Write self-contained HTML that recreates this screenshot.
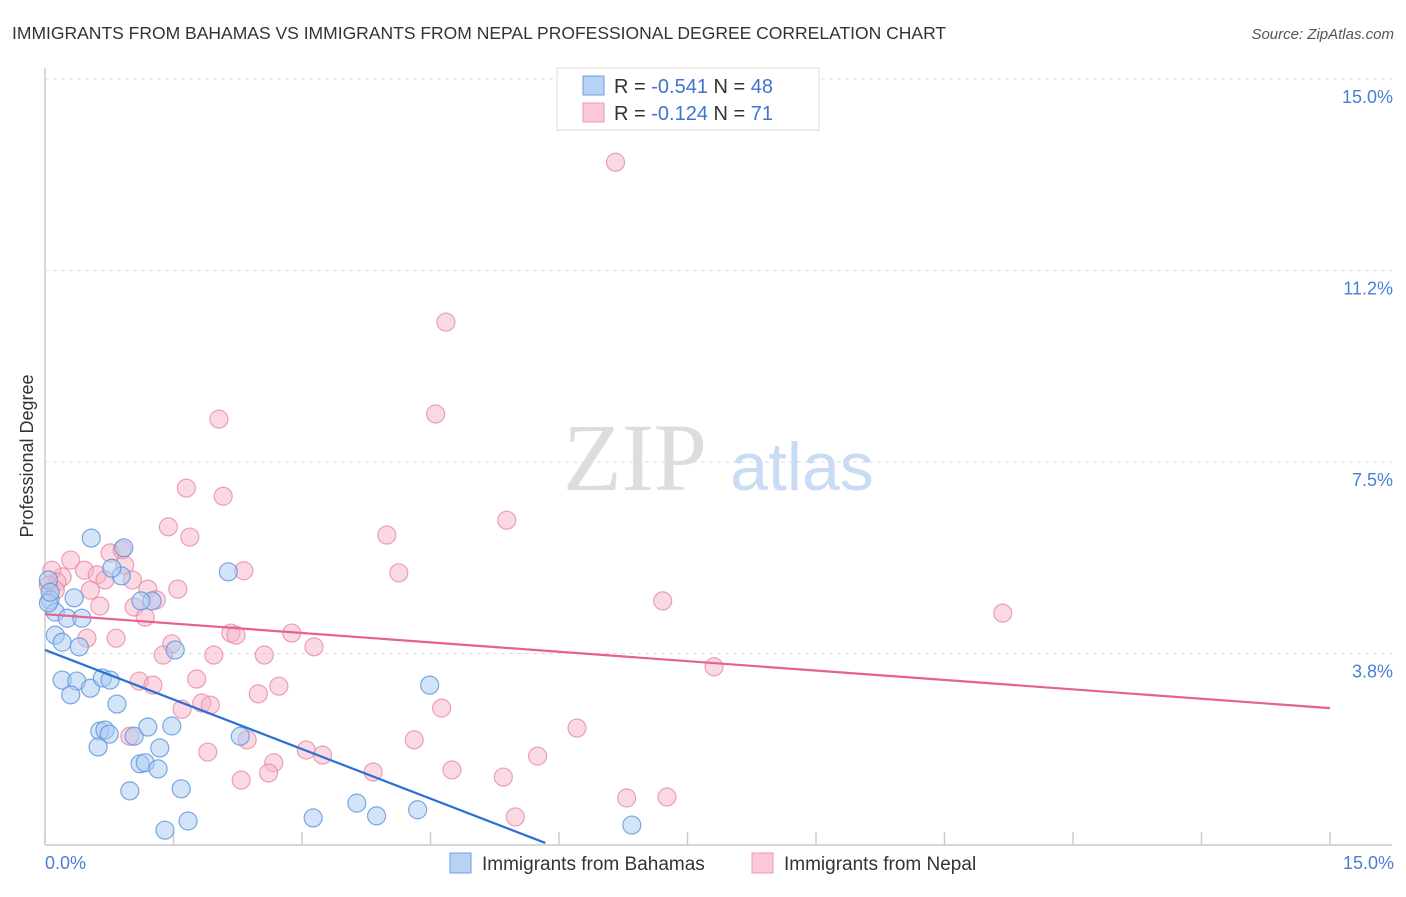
<!DOCTYPE html>
<html><head><meta charset="utf-8"><style>
body{margin:0;background:#fff;font-family:"Liberation Sans",sans-serif;}
</style></head><body>
<svg width="1406" height="892" xmlns="http://www.w3.org/2000/svg" id="chart">
<text x="12" y="39" font-size="17.5" fill="#333">IMMIGRANTS FROM BAHAMAS VS IMMIGRANTS FROM NEPAL PROFESSIONAL DEGREE CORRELATION CHART</text>
<text x="1394" y="39" font-size="15" fill="#555" font-style="italic" text-anchor="end">Source: ZipAtlas.com</text>
<g>
<text x="635" y="490" font-size="96" fill="#ddd" font-family="Liberation Serif,serif" text-anchor="middle">ZIP</text>
<text x="802" y="490" font-size="68" fill="#c9dcf3" text-anchor="middle">atlas</text>
</g>
<g id="grid"></g>
<g id="axes"></g>
<g id="marks"></g>
<text transform="translate(33,456) rotate(-90)" font-size="18" fill="#333" text-anchor="middle">Professional Degree</text>
<text x="45" y="869" font-size="18" fill="#4a7fd4">0.0%</text>
<text x="1394" y="869" font-size="18" fill="#4a7fd4" text-anchor="end">15.0%</text>
<g>
<rect x="557" y="68" width="262" height="62" fill="#fff" stroke="#ddd"/>
<rect x="583" y="76" width="21" height="19" fill="#b8d2f4" stroke="#6c9ee0"/>
<rect x="583" y="103" width="21" height="19" fill="#fac8d7" stroke="#ee9ab5"/>
<text x="614" y="93" font-size="20" fill="#333">R = <tspan fill="#3f74cf">-0.541</tspan>   N = <tspan fill="#3f74cf">48</tspan></text>
<text x="614" y="120" font-size="20" fill="#333">R = <tspan fill="#3f74cf">-0.124</tspan>   N = <tspan fill="#3f74cf"> 71</tspan></text>
</g>
<g>
<rect x="450" y="853" width="21" height="20" fill="#b8d2f4" stroke="#6c9ee0"/>
<text x="482" y="870" font-size="19" fill="#333">Immigrants from Bahamas</text>
<rect x="752" y="853" width="21" height="20" fill="#fac8d7" stroke="#ee9ab5"/>
<text x="784" y="870" font-size="19" fill="#333">Immigrants from Nepal</text>
</g>
</svg>
<script>
const yTicks=[3.75,7.5,11.25,15];
const yTickLabels=["3.8%","7.5%","11.2%","15.0%"];
const xTicks=[0,1.5,3,4.5,6,7.5,9,10.5,12,13.5,15];
const bahamasX=[0.54,0.92,0.89,0.78,0.06,0.34,0.12,0.26,0.43,0.12,0.20,0.40,1.52,1.25,1.12,2.14,0.20,0.37,0.53,0.67,0.30,0.84,0.64,0.70,0.75,0.62,1.04,1.20,1.48,1.34,1.11,1.17,1.32,0.99,1.59,1.40,1.67,2.28,3.13,3.64,3.87,4.35,4.49,6.85,0.04,0.04,0.06,0.76];
const bahamasY=[6.01,5.82,5.27,5.42,4.80,4.84,4.56,4.44,4.44,4.11,3.97,3.88,3.82,4.78,4.78,5.35,3.23,3.21,3.07,3.27,2.94,2.76,2.23,2.25,2.17,1.92,2.13,2.31,2.33,1.90,1.59,1.61,1.49,1.06,1.10,0.29,0.47,2.13,0.53,0.82,0.57,0.69,3.13,0.39,4.74,5.19,4.95,3.23];
const nepalX=[6.66,4.68,4.56,2.03,1.65,2.08,5.39,1.44,1.69,3.99,0.30,0.76,0.90,0.93,0.46,0.61,0.20,0.08,0.14,0.70,1.02,2.32,4.13,1.20,1.55,0.53,1.30,1.04,0.64,1.17,11.18,7.21,2.17,2.23,2.88,0.49,0.83,1.48,3.14,1.38,1.97,2.56,7.81,1.10,1.26,1.77,2.73,2.49,1.83,1.93,1.60,4.63,6.21,0.99,2.36,4.31,3.05,3.24,1.90,5.75,2.67,2.61,3.83,4.75,5.35,2.29,6.79,7.26,5.49,0.04,0.12];
const nepalY=[13.37,10.24,8.44,8.34,6.99,6.83,6.36,6.23,6.03,6.07,5.58,5.72,5.78,5.48,5.38,5.29,5.25,5.38,5.15,5.19,5.19,5.37,5.33,5.01,5.01,4.99,4.80,4.66,4.68,4.46,4.54,4.78,4.15,4.11,4.15,4.05,4.05,3.94,3.88,3.72,3.72,3.72,3.49,3.21,3.13,3.25,3.11,2.96,2.78,2.74,2.66,2.68,2.29,2.13,2.06,2.06,1.86,1.76,1.82,1.74,1.61,1.41,1.43,1.47,1.33,1.27,0.92,0.94,0.55,5.09,4.99];
const bahamasLineX=[0,5.84];
const bahamasLineY=[3.82,0.04];
const nepalLineX=[0,15];
const nepalLineY=[4.52,2.68];

const NS="http://www.w3.org/2000/svg";
const X0=45,X1=1330,Y0=845,Y1=79;
function xs(v){return X0+v/15*(X1-X0);}
function ys(v){return Y0-v/15*(Y0-Y1);}
function mk(tag,attrs,parent){const e=document.createElementNS(NS,tag);for(const k in attrs)e.setAttribute(k,attrs[k]);document.getElementById(parent).appendChild(e);return e;}
yTicks.forEach((t,i)=>{
  const l=mk('line',{x1:X0,x2:1392,y1:ys(t),y2:ys(t),stroke:'#ddd','stroke-dasharray':'4,4'},'grid');
  
  
  const tx=mk('text',{x:1393,y:ys(t)+24,'font-size':18,fill:'#4a7fd4','text-anchor':'end'},'grid');
  tx.textContent=yTickLabels[i];
  
  
});
const ya=mk('line',{x1:X0,x2:X0,y1:68,y2:Y0,stroke:'#ccc','stroke-width':1.5},'axes');


const xa=mk('line',{x1:X0,x2:1392,y1:Y0,y2:Y0,stroke:'#ccc','stroke-width':1.5},'axes');


xTicks.forEach(t=>{
  const l=mk('line',{x1:xs(t),x2:xs(t),y1:Y0-13,y2:Y0,stroke:'#ccc','stroke-width':1.5},'axes');
  
  
});
function dots(xa,ya,fill,stroke,name){
  xa.forEach((v,i)=>{
    const c=mk('circle',{cx:xs(v),cy:ys(ya[i]),r:9,fill:fill,'fill-opacity':0.5,stroke:stroke,'stroke-width':1.2,'stroke-opacity':0.8},'marks');
    
    
  });
}
dots(nepalX,nepalY,'#f7b3c8','#e88aa8','nepal-point');
dots(bahamasX,bahamasY,'#a9c9f2','#5b93d9','bahamas-point');
const bl=mk('line',{x1:xs(bahamasLineX[0]),y1:ys(bahamasLineY[0]),x2:xs(bahamasLineX[1]),y2:ys(bahamasLineY[1]),stroke:'#2a6fd6','stroke-width':2.2},'marks');


const pl=mk('line',{x1:xs(nepalLineX[0]),y1:ys(nepalLineY[0]),x2:xs(nepalLineX[1]),y2:ys(nepalLineY[1]),stroke:'#e5628f','stroke-width':2.2},'marks');


</script>
</body></html>
